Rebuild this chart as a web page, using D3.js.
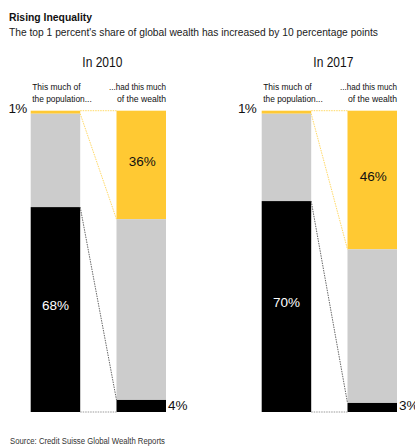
<!DOCTYPE html>
<html>
<head>
<meta charset="utf-8">
<script src="https://cdn.jsdelivr.net/npm/d3@7"></script>
<style>
  html, body { margin: 0; padding: 0; background: #fff; }
  svg { display: block; font-family: "Liberation Sans", Arial, sans-serif; }
</style>
</head>
<body>
<svg id="chart" width="415" height="447"></svg>
<script>
// Years shown side by side
const years = ["2010", "2017"];
// Share of the population in each group (top 1%, middle, bottom), percent
const populationShares = [
  [1, 31, 68],
  [1, 29, 70]
];
// Share of global wealth held by the same groups, percent
const wealthShares = [
  [36, 60, 4],
  [46, 51, 3]
];
const groupNames = ["top", "middle", "bottom"];
const groupColors = ["#ffc933", "#cccccc", "#000000"];

const svg = d3.select("#chart");

// Condensed look: squeeze a text to a given width
function squeeze(sel, w) {
  return sel.attr("textLength", w).attr("lengthAdjust", "spacingAndGlyphs");
}

// Heading
squeeze(svg.append("text").attr("x", 9).attr("y", 21)
  .attr("font-size", 11.5).attr("font-weight", "bold").attr("fill", "#111")
  .text("Rising Inequality"), 83);
squeeze(svg.append("text").attr("x", 9).attr("y", 36)
  .attr("font-size", 11).attr("fill", "#222")
  .text("The top 1 percent's share of global wealth has increased by 10 percentage points"), 369);

// Source
squeeze(svg.append("text").attr("x", 10).attr("y", 444)
  .attr("font-size", 8.5).attr("fill", "#333")
  .text("Source: Credit Suisse Global Wealth Reports"), 155);

// Vertical scale shared by both panels: 0% at top, 100% at bottom
const y = d3.scaleLinear().domain([0, 100]).range([110.7, 412]);

const panelX = [30.7, 261.7];
const barW = 49.5;
const gap = 36.3;

years.forEach((year, i) => {
  const g = svg.append("g").attr("transform", `translate(${panelX[i]},0)`);
  const x = d3.scaleBand().domain(["pop", "wealth"])
    .range([0, barW * 2 + gap])
    .paddingInner(gap / (barW + gap)).paddingOuter(0);
  const bw = x.bandwidth();

  const stack = (vals) => {
    let acc = 0;
    return vals.map((v, k) => {
      const s = { group: groupNames[k], v, y0: acc, y1: acc + v, color: groupColors[k] };
      acc += v;
      return s;
    });
  };
  const pop = stack(populationShares[i]);
  const wealth = stack(wealthShares[i]);

  const xc = (x("pop") + x("wealth") + bw) / 2;
  squeeze(g.append("text").attr("x", xc + 4 - 20).attr("y", 67)
    .attr("font-size", 14).attr("fill", "#111")
    .text("In " + year), 40);

  // Column headers
  const hx = x("pop") + 1.5, wx = x("wealth") + bw;
  squeeze(g.append("text").attr("x", hx).attr("y", 90).attr("font-size", 9.5).attr("fill", "#111")
    .text("This much of"), 48.5);
  squeeze(g.append("text").attr("x", hx).attr("y", 101.7).attr("font-size", 9.5).attr("fill", "#111")
    .text("the population..."), 59.5);
  squeeze(g.append("text").attr("x", wx - 57).attr("y", 90).attr("font-size", 9.5).attr("fill", "#111")
    .text("...had this much"), 57);
  squeeze(g.append("text").attr("x", wx - 49).attr("y", 101.7).attr("font-size", 9.5).attr("fill", "#111")
    .text("of the wealth"), 49);

  // Bars
  g.selectAll("rect.pop").data(pop).join("rect").attr("class", "pop")
    .attr("x", x("pop")).attr("width", bw)
    .attr("y", d => y(d.y0)).attr("height", d => y(d.y1) - y(d.y0))
    .attr("fill", d => d.color);
  g.selectAll("rect.wealth").data(wealth).join("rect").attr("class", "wealth")
    .attr("x", x("wealth")).attr("width", bw)
    .attr("y", d => y(d.y0)).attr("height", d => y(d.y1) - y(d.y0))
    .attr("fill", d => d.color);

  // Dotted connectors between matching boundaries
  const xa = x("pop") + bw, xb = x("wealth");
  const conn = [
    { a: 0, b: 0, c: "#ffd966" },
    { a: pop[0].y1, b: wealth[0].y1, c: "#ffd966" },
    { a: pop[2].y0, b: wealth[2].y0, c: "#666" },
    { a: 100, b: 100, c: "#999" }
  ];
  g.selectAll("line.conn").data(conn).join("line").attr("class", "conn")
    .attr("x1", xa).attr("x2", xb)
    .attr("y1", d => y(d.a)).attr("y2", d => y(d.b))
    .attr("stroke", d => d.c).attr("stroke-width", 1)
    .attr("stroke-dasharray", "1.5,1");

  // Value labels
  g.append("text").attr("x", x("pop") - 4 - (i ? 1.5 : 0)).attr("y", y(pop[0].y0) + 2.6)
    .attr("text-anchor", "end").attr("font-size", 13.5).attr("fill", "#111")
    .attr("letter-spacing", -0.6)
    .text(pop[0].v + "%");
  g.append("text").attr("x", x("pop") + bw / 2).attr("y", y((pop[2].y0 + pop[2].y1) / 2))
    .attr("text-anchor", "middle").attr("font-size", 13.5).attr("fill", "#fff")
    .text(pop[2].v + "%");
  g.append("text").attr("x", x("wealth") + bw / 2 + 1).attr("y", y((wealth[0].y0 + wealth[0].y1) / 2) + 1)
    .attr("text-anchor", "middle").attr("font-size", 13.5).attr("fill", "#111")
    .text(wealth[0].v + "%");
  g.append("text").attr("x", x("wealth") + bw + 2).attr("y", y(100) - 2)
    .attr("font-size", 13.5).attr("fill", "#111")
    .text(wealth[2].v + "%");
});
</script>
</body>
</html>
